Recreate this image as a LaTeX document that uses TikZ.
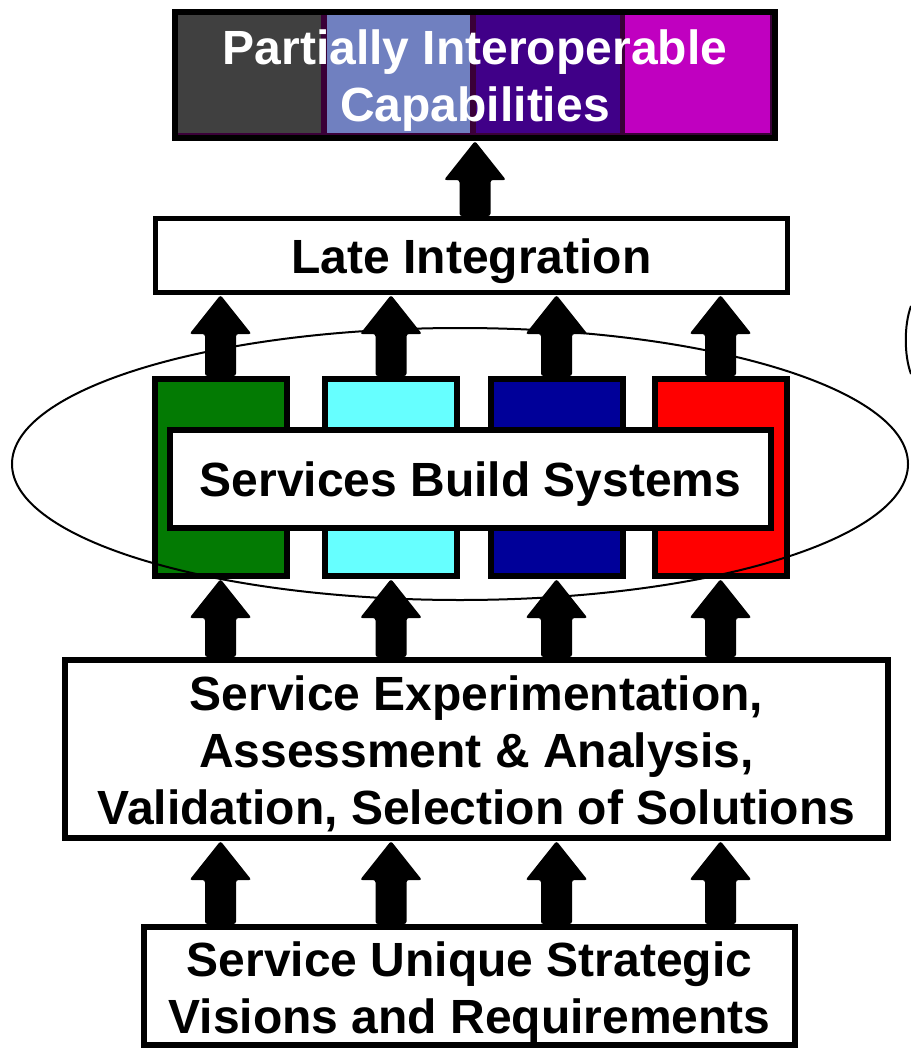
\documentclass[tikz,border=0pt]{standalone}
\usepackage{fontspec}
\setmainfont{Liberation Sans}
\usetikzlibrary{calc}
\definecolor{cgreen}{HTML}{037A03}
\definecolor{ccyan}{HTML}{66FFFF}
\definecolor{cblue}{HTML}{000099}
\definecolor{cred}{HTML}{FF0000}
\definecolor{sgray}{HTML}{404040}
\definecolor{slblue}{HTML}{7080C0}
\definecolor{spurple}{HTML}{400088}
\definecolor{smagenta}{HTML}{C000C0}
\definecolor{sedge}{HTML}{3A0038}
\tikzset{
  box/.style={draw=black, fill=white, line width=6pt, inner sep=0pt},
  txt/.style={inner sep=0pt, align=center, font=\fontsize{48}{57}\selectfont\bfseries},
  sysbox/.style={draw=black, line width=6pt, inner sep=0pt, minimum width=132pt, minimum height=197pt},
  arrowfill/.style={fill=black, rounded corners=2.5pt},
  ring/.style={draw=black, line width=2pt},
}
\newcommand\bigup[2]{%
  \fill[arrowfill] let \p1=(#1), \p2=(#2) in
    (\x1-15.5pt,\y1) -- (\x1-15.5pt,\y2-39pt) -- (\x1-31pt,\y2-39pt) -- (\x1,\y2)
    -- (\x1+31pt,\y2-39pt) -- (\x1+15.5pt,\y2-39pt) -- (\x1+15.5pt,\y1) -- cycle;}
\begin{document}
\begin{tikzpicture}[x=1pt,y=-1pt]
\useasboundingbox (0,0) rectangle (910,1049);
% top box stripes
\fill[sedge] (175,12) rectangle (775,138);
\fill[sgray] (178,15) rectangle (321,133);
\fill[slblue] (327,15) rectangle (470,133);
\fill[spurple] (476,15) rectangle (620,133);
\fill[smagenta] (625,15) rectangle (770,133);
\node[box, fill=none, minimum width=600pt, minimum height=126pt,
  label={[txt, text=white, yshift=-5.5pt]center:Partially Interoperable\\Capabilities}] (top) at (475,75) {};
\node[box, line width=5pt, minimum width=632pt, minimum height=74pt,
  label={[txt, yshift=-6pt]center:Late Integration}] (li) at (471.5,255.5) {};
\node[sysbox, fill=cgreen] (g1) at (220.5,477.5) {};
\node[sysbox, fill=ccyan] (g2) at (391,477.5) {};
\node[sysbox, fill=cblue] (g3) at (556.5,477.5) {};
\node[sysbox, fill=cred] (g4) at (720.5,477.5) {};
\draw[ring] (460,464) ellipse [x radius=448, y radius=136];
\draw[ring] (911,306) .. controls (904,325) and (904,355) .. (911,374);
\node[box, minimum width=601pt, minimum height=98pt,
  label={[txt, yshift=-5pt]center:Services Build Systems}] (sbs) at (470.5,479) {};
\node[box, minimum width=823pt, minimum height=178pt,
  label={[txt, yshift=-5pt]center:Service Experimentation,\\Assessment \& Analysis,\\Validation, Selection of Solutions}] (seaa) at (476.5,749) {};
\node[box, minimum width=651pt, minimum height=118pt,
  label={[txt, yshift=-7pt]center:Service Unique Strategic\\Visions and Requirements}] (req) at (469.5,986) {};
% arrows
\bigup{top.south |- li.north}{top.south}
\foreach \g in {g1,g2,g3,g4}{
  \bigup{\g.north}{\g.north |- li.south}
  \bigup{\g.south |- seaa.north}{\g.south}
  \bigup{\g.south |- req.north}{\g.south |- seaa.south}
}
\end{tikzpicture}
\end{document}
